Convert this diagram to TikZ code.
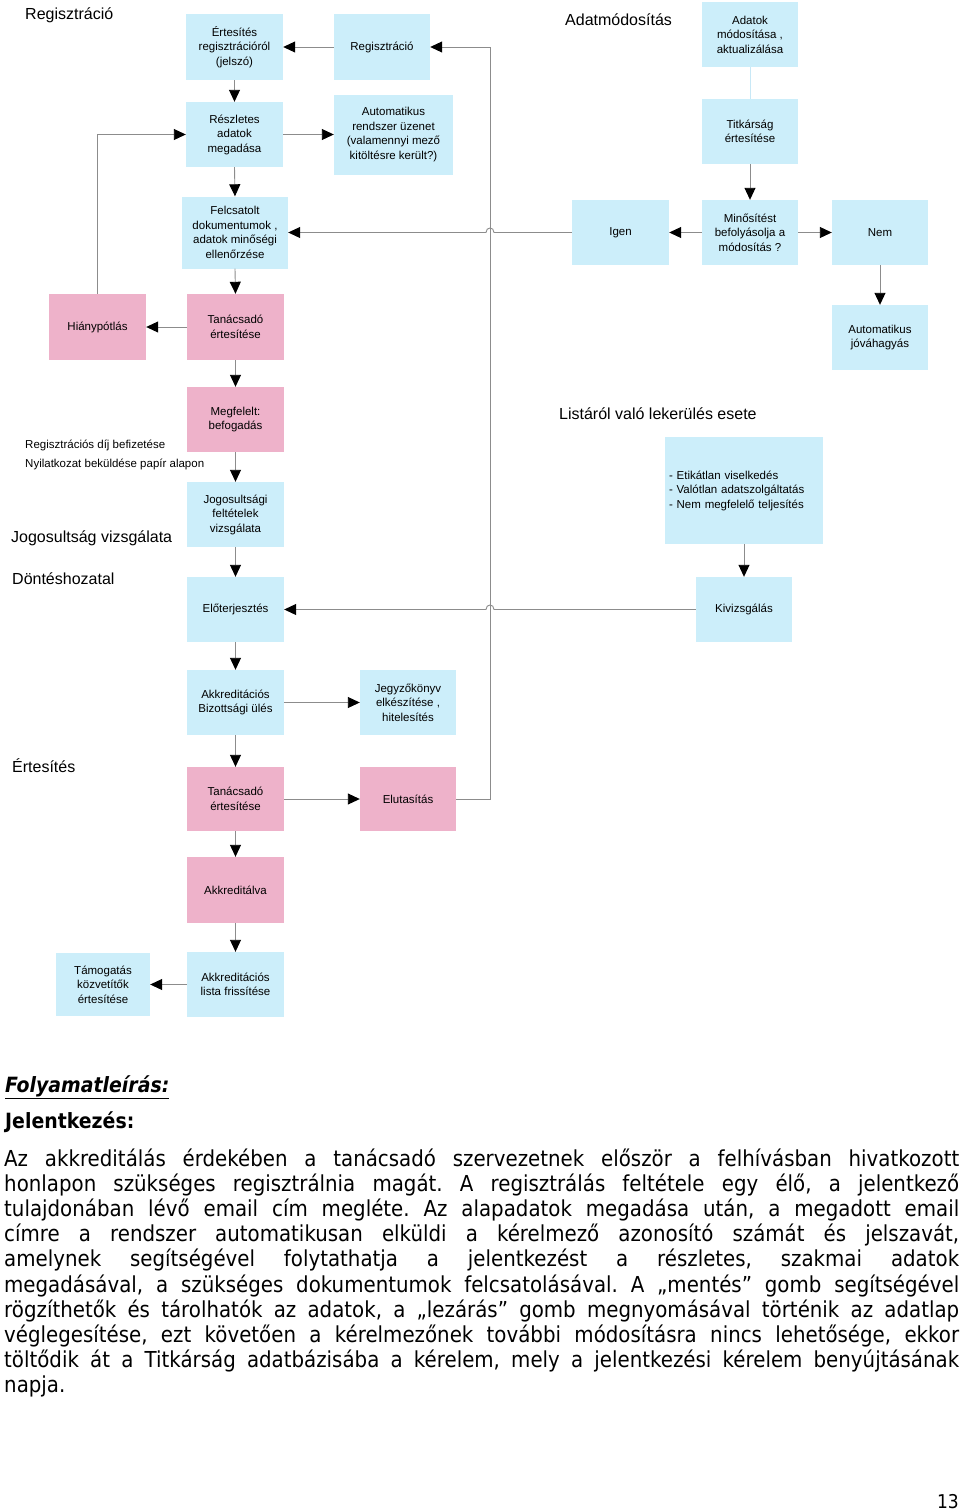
\documentclass[tikz,border=0pt]{standalone}
\usepackage{fontspec}
\setmainfont{Liberation Sans}
\newfontfamily\bodyfont[FakeStretch=0.9]{DejaVu Sans}
\usetikzlibrary{arrows.meta,calc}
\definecolor{boxblue}{RGB}{204,238,250}
\definecolor{boxpink}{RGB}{238,178,202}
\definecolor{linegray}{RGB}{140,140,140}
\definecolor{paleline}{RGB}{200,232,246}
\newcommand\jl[1]{\hbox to \linewidth{#1}}
\frenchspacing
\tikzset{
  cbox/.style={draw=none, inner sep=2pt, align=center,
    font=\fontsize{11.5}{14.5}\selectfont, minimum width=97pt, minimum height=66pt},
  bbox/.style={cbox, fill=boxblue},
  pbox/.style={cbox, fill=boxpink},
  arr/.style={draw=linegray, line width=0.9pt,
    -{Triangle[length=12pt,width=11pt,color=black,fill=black]}},
  plain/.style={draw=linegray, line width=0.9pt},
  ttl/.style={anchor=base west, inner sep=0, font=\fontsize{16}{19}\selectfont},
  sml/.style={anchor=base west, inner sep=0, font=\fontsize{11.5}{14}\selectfont},
}
\begin{document}
\begin{tikzpicture}[x=1pt,y=-1pt]
\useasboundingbox (0,0) rectangle (960,1510);
\fill[white] (0,0) rectangle (960,1510);

% section titles
\node[ttl] (tReg) at (25,19) {Regisztráció};
\node[ttl] (tAdat) at (565,25) {Adatmódosítás};
\node[ttl] (tList) at (559,419) {Listáról való lekerülés esete};
\node[ttl] (tJog) at (11,542) {Jogosultság vizsgálata};
\node[ttl] (tDont) at (12,584) {Döntéshozatal};
\node[ttl] (tErt) at (12,772) {Értesítés};
\node[sml] (nDij) at (25,448) {Regisztrációs díj befizetése};
\node[sml] (nNyil) at (25,467) {Nyilatkozat beküldése papír alapon};

% left column boxes
\node[bbox] (ertes) at (234.5,47) {Értesítés\\regisztrációról\\(jelszó)};
\node[bbox, minimum width=96pt] (regisz) at (382,47) {Regisztráció};
\node[bbox, minimum height=65pt] (reszl) at (234.5,134.5) {Részletes\\adatok\\megadása};
\node[bbox, minimum width=119pt, minimum height=80pt] (autom) at (393.5,134.5) {Automatikus\\rendszer üzenet\\(valamennyi mező\\kitöltésre került?)};
\node[bbox, minimum width=106pt, minimum height=72pt] (felcs) at (235,232.5) {Felcsatolt\\dokumentumok ,\\adatok minőségi\\ellenőrzése};
\node[pbox] (hiany) at (97.5,327) {Hiánypótlás};
\node[pbox] (tan1) at (235.5,327) {Tanácsadó\\értesítése};
\node[pbox, minimum height=65pt] (megf) at (235.5,419.5) {Megfelelt:\\befogadás};
\node[bbox, minimum height=65pt] (jogos) at (235.5,514.5) {Jogosultsági\\feltételek\\vizsgálata};
\node[bbox, minimum height=65pt] (eloterj) at (235.5,609.5) {Előterjesztés};
\node[bbox, minimum height=65pt] (abules) at (235.5,702.5) {Akkreditációs\\Bizottsági ülés};
\node[bbox, minimum width=96pt, minimum height=65pt] (jegyz) at (408,702.5) {Jegyzőkönyv\\elkészítése ,\\hitelesítés};
\node[pbox, minimum height=64pt] (tan2) at (235.5,799) {Tanácsadó\\értesítése};
\node[pbox, minimum width=96pt, minimum height=64pt] (eluta) at (408,799) {Elutasítás};
\node[pbox] (akkr) at (235.5,890) {Akkreditálva};
\node[bbox, minimum height=65pt] (lista) at (235.5,984.5) {Akkreditációs\\lista frissítése};
\node[bbox, minimum width=94pt, minimum height=63pt] (tamog) at (103,984.5) {Támogatás\\közvetítők\\értesítése};

% right column boxes
\node[bbox, minimum width=96pt, minimum height=65pt] (adatmod) at (750,34.5) {Adatok\\módosítása ,\\aktualizálása};
\node[bbox, minimum width=96pt, minimum height=65pt] (titk) at (750,131.5) {Titkárság\\értesítése};
\node[bbox, minimum width=96pt, minimum height=65pt] (minos) at (750,232.5) {Minősítést\\befolyásolja a\\módosítás ?};
\node[bbox, minimum width=97pt, minimum height=65pt] (igen) at (620.5,232.5) {Igen};
\node[bbox, minimum width=96pt, minimum height=65pt] (nem) at (880,232.5) {Nem};
\node[bbox, minimum width=96pt, minimum height=65pt] (autjov) at (880,337.5) {Automatikus\\jóváhagyás};
\node[bbox, minimum width=158pt, minimum height=107pt, text width=150pt, align=left] (etik) at (744,490.5) {- Etikátlan viselkedés\\- Valótlan adatszolgáltatás\\- Nem megfelelő teljesítés};
\node[bbox, minimum width=96pt, minimum height=65pt] (kiviz) at (744,609.5) {Kivizsgálás};

\coordinate (vline) at (490,0);

% connectors
\draw[arr] (regisz.west) -- (ertes.east);
\draw[arr] (eluta.east) -| (vline |- regisz.east) -- (regisz.east);
\draw[arr] (ertes.south) -- (reszl.north);
\draw[arr] (reszl.east) -- (autom.west);
\draw[arr] (reszl.south) -- (felcs.north);
\draw[arr] (felcs.south) -- (tan1.north);
\draw[arr] (tan1.west) -- (hiany.east);
\draw[arr] (hiany.north) |- (reszl.west);
\draw[arr] (tan1.south) -- (megf.north);
\draw[arr] (megf.south) -- (jogos.north);
\draw[arr] (jogos.south) -- (eloterj.north);
\draw[arr] (eloterj.south) -- (abules.north);
\draw[arr] (abules.east) -- (jegyz.west);
\draw[arr] (abules.south) -- (tan2.north);
\draw[arr] (tan2.east) -- (eluta.west);
\draw[arr] (tan2.south) -- (akkr.north);
\draw[arr] (akkr.south) -- (lista.north);
\draw[arr] (lista.west) -- (tamog.east);

\draw[draw=paleline, line width=0.9pt] (adatmod.south) -- (titk.north);
\draw[arr] (titk.south) -- (minos.north);
\draw[arr] (minos.west) -- (igen.east);
\draw[arr] (minos.east) -- (nem.west);
\draw[arr] (nem.south) -- (autjov.north);
\draw[arr] (etik.south) -- (kiviz.north);
\draw[arr] (igen.west) -- ($(vline |- igen.west)+(4,0)$) .. controls +(0,-6) and +(0,-6) .. ++(-8,0) -- (felcs.east);
\draw[arr] (kiviz.west) -- ($(vline |- kiviz.west)+(4,0)$) .. controls +(0,-6) and +(0,-6) .. ++(-8,0) -- (eloterj.east);

% body text
\node[anchor=base west, inner sep=0, font=\bodyfont\fontsize{21}{25}\selectfont\bfseries\itshape] (hFoly) at (5,1092) {\underline{Folyamatleírás:}};
\node[anchor=base west, inner sep=0, font=\bodyfont\fontsize{21}{25}\selectfont\bfseries] (hJel) at (5,1128) {Jelentkezés:};
\node[anchor=base west, inner sep=0] (para) at (4,1166) {\begin{minipage}[t]{955pt}\bodyfont\fontsize{22}{25.2}\selectfont\frenchspacing
\jl{Az akkreditálás érdekében a tanácsadó szervezetnek először a felhívásban hivatkozott}
\jl{honlapon szükséges regisztrálnia magát. A regisztrálás feltétele egy élő, a jelentkező}
\jl{tulajdonában lévő email cím megléte. Az alapadatok megadása után, a megadott email}
\jl{címre a rendszer automatikusan elküldi a kérelmező azonosító számát és jelszavát,}
\jl{amelynek segítségével folytathatja a jelentkezést a részletes, szakmai adatok}
\jl{megadásával, a szükséges dokumentumok felcsatolásával. A „mentés” gomb segítségével}
\jl{rögzíthetők és tárolhatók az adatok, a „lezárás” gomb megnyomásával történik az adatlap}
\jl{véglegesítése, ezt követően a kérelmezőnek további módosításra nincs lehetősége, ekkor}
\jl{töltődik át a Titkárság adatbázisába a kérelem, mely a jelentkezési kérelem benyújtásának}
\hbox{napja.}
\end{minipage}};
\node[anchor=base east, inner sep=0, font=\bodyfont\fontsize{19}{21}\selectfont] (pnum) at (959,1508) {13};
\end{tikzpicture}
\end{document}
